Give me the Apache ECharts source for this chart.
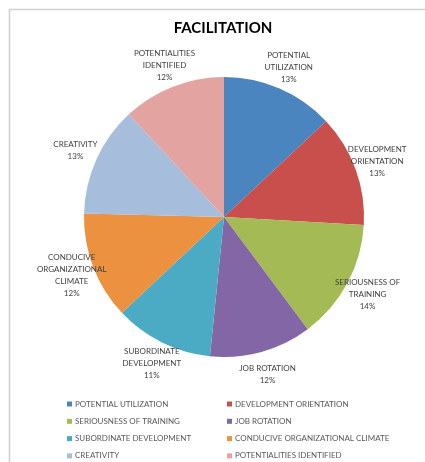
<!DOCTYPE html>
<html>
<head>
<meta charset="utf-8">
<script src="https://cdn.jsdelivr.net/npm/echarts@6/dist/echarts.min.js"></script>
<style>
html,body{margin:0;padding:0;background:#fff;}
#c{width:425px;height:462px;}
</style>
</head>
<body>
<div id="c"></div>
<script>
const categories = [
  'POTENTIAL UTILIZATION',
  'DEVELOPMENT ORIENTATION',
  'SERIOUSNESS OF TRAINING',
  'JOB ROTATION',
  'SUBORDINATE DEVELOPMENT',
  'CONDUCIVE ORGANIZATIONAL CLIMATE',
  'CREATIVITY',
  'POTENTIALITIES IDENTIFIED'
];
const labelLines = [
  'POTENTIAL\nUTILIZATION',
  'DEVELOPMENT\nORIENTATION',
  'SERIOUSNESS OF\nTRAINING',
  'JOB ROTATION',
  'SUBORDINATE\nDEVELOPMENT',
  'CONDUCIVE\nORGANIZATIONAL\nCLIMATE',
  'CREATIVITY',
  'POTENTIALITIES\nIDENTIFIED'
];
const values = [13.0, 12.9, 13.9, 11.8, 11.4, 12.4, 12.7, 11.9];
const colors = ['#4A85C0', '#C84F4B', '#A4BA55', '#8266A6', '#4BAAC4', '#EB913F', '#A6BDDB', '#E3A3A0'];
const legendLeft = [categories[0], categories[2], categories[4], categories[6]];
const legendRight = [categories[1], categories[3], categories[5], categories[7]];

const FONT = 'Lato, "Open Sans", sans-serif';
const chart = echarts.init(document.getElementById('c'), null, {renderer: 'canvas'});
const legendCommon = {
  orient: 'vertical',
  top: 398,
  itemWidth: 5,
  itemHeight: 5,
  itemGap: 5.3,
  icon: 'rect',
  padding: 0,
  selectedMode: false,
  textStyle: {color: '#595959', fontSize: 8, fontFamily: FONT, lineHeight: 12, padding: [0, 0, 0, -2]}
};
chart.setOption({
  backgroundColor: '#ffffff',
  animation: false,
  color: colors,
  graphic: [{
    type: 'rect',
    shape: {x: 9.5, y: 9.5, width: 430, height: 470},
    style: {fill: 'none', stroke: '#CFCFCF', lineWidth: 1.5},
    silent: true
  }],
  title: {
    text: 'FACILITATION',
    left: 218,
    textAlign: 'center',
    top: 16,
    textStyle: {fontFamily: FONT, fontWeight: 'bold', fontSize: 15, color: '#000000'}
  },
  legend: [
    Object.assign({}, legendCommon, {left: 67, data: legendLeft}),
    Object.assign({}, legendCommon, {left: 227, data: legendRight})
  ],
  series: [{
    type: 'pie',
    center: [224, 217],
    radius: 140,
    startAngle: 90,
    clockwise: true,
    avoidLabelOverlap: false,
    itemStyle: {borderWidth: 0},
    label: {
      show: true,
      position: 'outside',
      alignTo: 'none',
      distanceToLabelLine: 0,
      overflow: 'none',
      color: '#404040',
      fontSize: 8,
      lineHeight: 12,
      fontFamily: FONT,
      formatter: function (p) {
        return labelLines[p.dataIndex] + '\n' + Math.round(p.percent) + '%';
      }
    },
    labelLine: {show: false, length: 23, length2: 0},
    labelLayout: function () {
      return {align: 'center', verticalAlign: 'middle'};
    },
    emphasis: {disabled: true},
    data: categories.map(function (n, i) { return {name: n, value: values[i]}; })
  }]
});
</script>
</body>
</html>
